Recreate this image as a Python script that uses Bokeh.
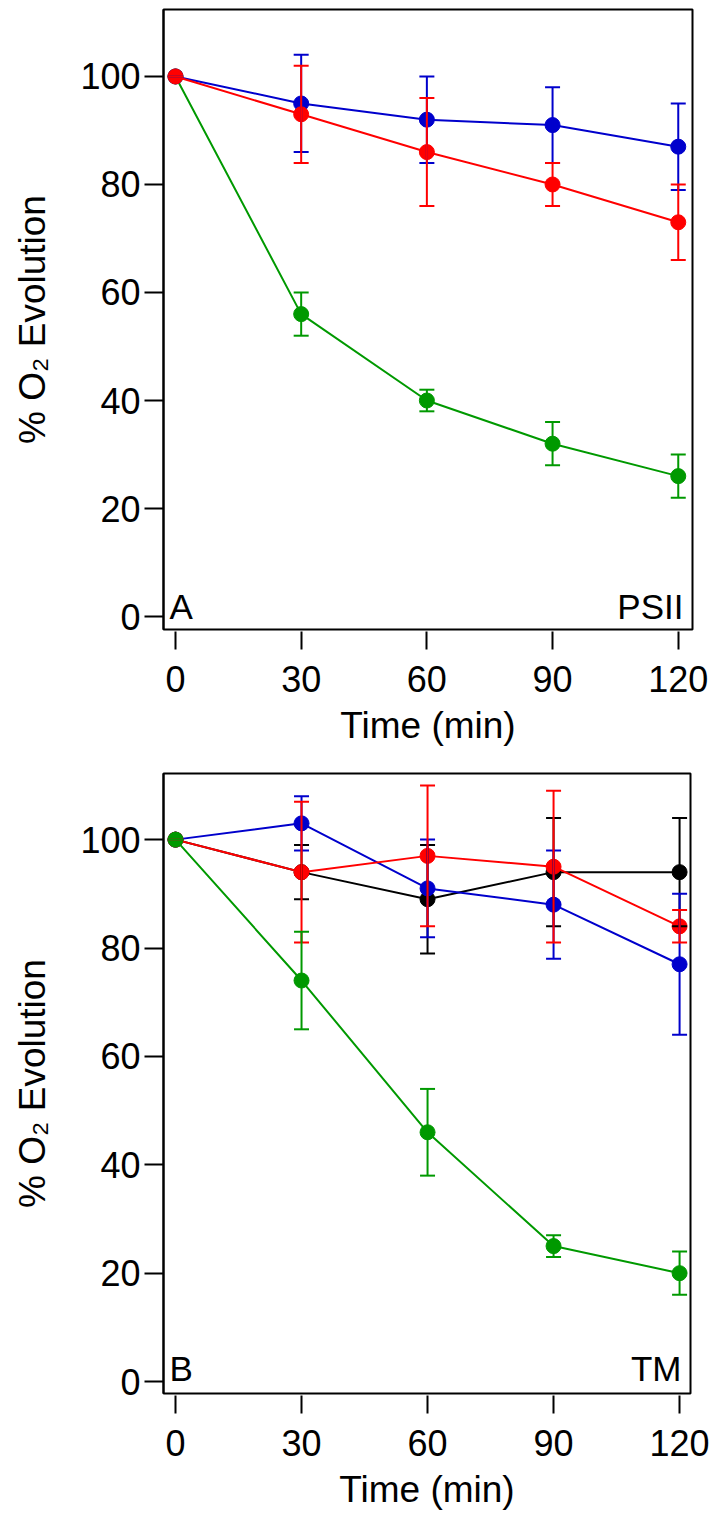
from bokeh.plotting import figure
from bokeh.models import Range1d, Whisker, TeeHead, ColumnDataSource, Label, FixedTicker
from bokeh.layouts import column
from bokeh.embed import file_html
from bokeh.resources import INLINE

FONT = "Liberation Sans"

time_min = [0, 30, 60, 90, 120]
x_ticks = [0, 30, 60, 90, 120]
y_ticks = [0, 20, 40, 60, 80, 100]

# Panel A (PSII)
psii_green = [100, 56, 40, 32, 26]
psii_green_err = [0, 4, 2, 4, 4]
psii_blue = [100, 95, 92, 91, 87]
psii_blue_err = [0, 9, 8, 7, 8]
psii_red = [100, 93, 86, 80, 73]
psii_red_err = [0, 9, 10, 4, 7]

# Panel B (TM)
tm_black = [100, 94, 89, 94, 94]
tm_black_err = [0, 5, 10, 10, 10]
tm_blue = [100, 103, 91, 88, 77]
tm_blue_err = [0, 5, 9, 10, 13]
tm_red = [100, 94, 97, 95, 84]
tm_red_err = [0, 13, 13, 14, 3]
tm_green = [100, 74, 46, 25, 20]
tm_green_err = [0, 9, 8, 2, 4]

RED = "#ff0000"
BLUE = "#0000cc"
GREEN = "#009900"
BLACK = "#000000"


def make_panel(xr, yr, fw, fh, bl, br, bt, bb):
    p = figure(x_range=xr, y_range=yr, frame_width=fw, frame_height=fh,
               min_border_left=bl, min_border_right=br, min_border_top=bt,
               min_border_bottom=bb, output_backend="svg", toolbar_location=None,
               background_fill_color="white", border_fill_color="white")
    p.grid.visible = False
    p.outline_line_color = "black"
    p.outline_line_width = 2
    p.outline_line_alpha = 1

    p.xaxis.ticker = FixedTicker(ticks=x_ticks)
    p.yaxis.ticker = FixedTicker(ticks=y_ticks)
    for ax in (p.xaxis, p.yaxis):
        ax.minor_tick_line_color = None
        ax.major_tick_line_width = 2
        ax.major_tick_line_color = "black"
        ax.major_label_text_font = FONT
        ax.major_label_text_font_size = "36px"
        ax.major_label_text_color = "black"
        ax.axis_label_text_font = FONT
        ax.axis_label_text_font_size = "37px"
        ax.axis_label_text_font_style = "normal"
        ax.axis_label_text_color = "black"
    p.xaxis.axis_line_color = None
    p.xaxis.major_tick_in = -2
    p.xaxis.major_tick_out = 20
    p.xaxis.major_label_standoff = 16
    p.xaxis.axis_label = "Time (min)"
    p.xaxis.axis_label_standoff = 10

    p.yaxis.axis_line_color = "black"
    p.yaxis.axis_line_width = 2
    p.yaxis.major_tick_in = 0
    p.yaxis.major_tick_out = 19
    p.yaxis.major_label_standoff = 4
    p.yaxis.axis_label = "% O\u2082 Evolution"
    p.yaxis.axis_label_standoff = 24
    return p


def add_series(p, x, y, err, color):
    lower = [v - e for v, e in zip(y, err)]
    upper = [v + e for v, e in zip(y, err)]
    src = ColumnDataSource(dict(x=x, y=y, lower=lower, upper=upper))
    w = Whisker(base="x", lower="lower", upper="upper", source=src,
                line_color=color, line_width=2, level="glyph",
                upper_head=TeeHead(size=15, line_color=color, line_width=2),
                lower_head=TeeHead(size=15, line_color=color, line_width=2))
    p.add_layout(w)
    p.line("x", "y", source=src, line_color=color, line_width=2)
    p.scatter("x", "y", source=src, size=15, marker="circle",
              fill_color=color, line_color=color)


def corner_labels(p, left_text, right_text, px_per_x, px_per_y, y_base_px):
    xr, yr = p.x_range, p.y_range
    yb = yr.start + y_base_px / px_per_y
    p.add_layout(Label(x=xr.start + 6 / px_per_x, y=yb, text=left_text,
                       text_font=FONT, text_font_size="35px", text_color="black",
                       text_align="left", text_baseline="bottom"))
    p.add_layout(Label(x=xr.end - 9 / px_per_x, y=yb, text=right_text,
                       text_font=FONT, text_font_size="35px", text_color="black",
                       text_align="right", text_baseline="bottom"))


# Panel A
p1 = make_panel(Range1d(-2.86, 123.4), Range1d(-2.4, 112.4), 529, 620, 163, 20, 9, 120)
add_series(p1, time_min, psii_green, psii_green_err, GREEN)
add_series(p1, time_min, psii_blue, psii_blue_err, BLUE)
add_series(p1, time_min, psii_red, psii_red_err, RED)
corner_labels(p1, "A", "PSII", 4.19, 5.4, 3)

# Panel B
p2 = make_panel(Range1d(-2.86, 122.6), Range1d(-2.2, 112.2), 527, 620, 161, 24, 24, 118)
add_series(p2, time_min, tm_black, tm_black_err, BLACK)
add_series(p2, time_min, tm_blue, tm_blue_err, BLUE)
add_series(p2, time_min, tm_red, tm_red_err, RED)
add_series(p2, time_min, tm_green, tm_green_err, GREEN)
corner_labels(p2, "B", "TM", 4.2, 5.42, 6)

layout = column(p1, p2, spacing=0)
open("out.html", "w").write(file_html(layout, INLINE))
